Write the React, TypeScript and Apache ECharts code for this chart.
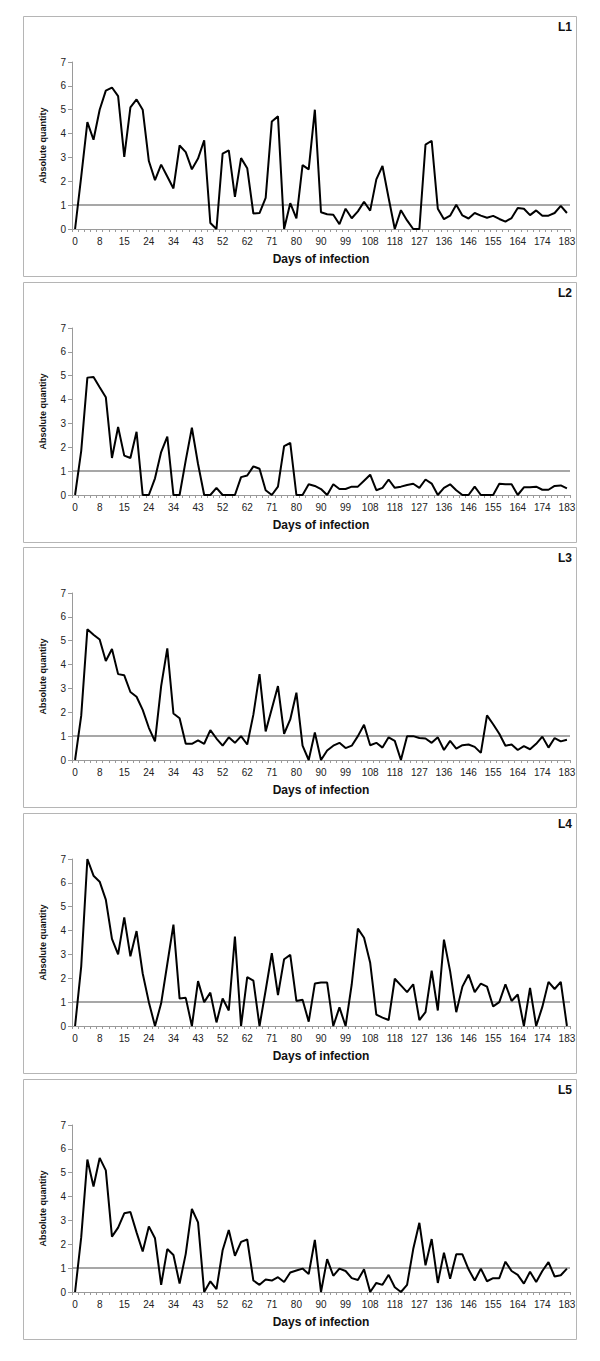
import React, { useEffect, useRef } from "react";
import * as echarts from "echarts";

// Day of sampling (category axis); every 4th one is labelled
const days = [
  "0", "2", "4", "6", "8", "10", "11", "13", "15", "17", "20", "22", "24", "27", "29", "31",
  "34", "36", "38", "41", "43", "45", "48", "50", "52", "55", "57", "59", "62", "64", "66", "69",
  "71", "73", "76", "78", "80", "83", "85", "87", "90", "92", "94", "97", "99", "101", "104", "106",
  "108", "111", "113", "115", "118", "120", "122", "125", "127", "129", "132", "134", "136", "139",
  "141", "143", "146", "148", "151", "153", "155", "157", "160", "162", "164", "167", "169", "171",
  "174", "176", "178", "181", "183",
];

const panelNames = ["L1", "L2", "L3", "L4", "L5"];

const l1 = [
  0, 2.2, 4.48, 3.74, 5.0, 5.8, 5.93, 5.57, 3.02, 5.1,
  5.43, 5.0, 2.85, 2.05, 2.7, 2.2, 1.7, 3.5, 3.22, 2.5,
  2.95, 3.72, 0.25, 0, 3.16, 3.3, 1.35, 2.97, 2.55, 0.65,
  0.67, 1.3, 4.51, 4.72, 0, 1.08, 0.45, 2.68, 2.5, 5.0,
  0.7, 0.62, 0.6, 0.2, 0.85, 0.45, 0.74, 1.14, 0.77, 2.08,
  2.64, 1.3, 0, 0.79, 0.36, 0, 0, 3.54, 3.7, 0.85,
  0.41, 0.56, 1.02, 0.57, 0.44, 0.67, 0.56, 0.47, 0.55, 0.42,
  0.31, 0.46, 0.88, 0.85, 0.58, 0.78, 0.56, 0.56, 0.67, 0.97, 0.67,
];

const l2 = [
  0, 1.85, 4.92, 4.95, 4.52, 4.1, 1.55, 2.85, 1.65, 1.55,
  2.65, 0, 0, 0.7, 1.8, 2.45, 0, 0, 1.45, 2.82,
  1.3, 0, 0, 0.3, 0, 0, 0, 0.75, 0.82, 1.2,
  1.1, 0.2, 0, 0.35, 2.05, 2.18, 0, 0, 0.45, 0.38,
  0.25, 0, 0.45, 0.25, 0.25, 0.35, 0.35, 0.6, 0.85, 0.2,
  0.3, 0.65, 0.3, 0.35, 0.42, 0.47, 0.3, 0.65, 0.48, 0,
  0.3, 0.45, 0.2, 0, 0, 0.35, 0, 0, 0, 0.47,
  0.45, 0.45, 0, 0.32, 0.32, 0.35, 0.22, 0.22, 0.38, 0.4, 0.28,
];

const l3 = [
  0, 1.86, 5.48, 5.25, 5.05, 4.15, 4.65, 3.6, 3.55, 2.85,
  2.65, 2.1, 1.35, 0.78, 3.1, 4.68, 1.95, 1.75, 0.68, 0.68,
  0.82, 0.68, 1.25, 0.9, 0.6, 0.95, 0.72, 1.0, 0.65, 1.9,
  3.6, 1.2, 2.15, 3.1, 1.1, 1.7, 2.82, 0.6, 0, 1.15,
  0, 0.4, 0.6, 0.72, 0.5, 0.6, 1.0, 1.48, 0.62, 0.72,
  0.52, 0.95, 0.8, 0, 1.0, 1.0, 0.92, 0.9, 0.72, 0.95,
  0.42, 0.8, 0.48, 0.62, 0.65, 0.55, 0.3, 1.87, 1.5, 1.1,
  0.6, 0.65, 0.42, 0.58, 0.45, 0.68, 0.98, 0.52, 0.92, 0.78, 0.85,
];

const l4 = [
  0, 2.5, 7.0, 6.3, 6.05, 5.3, 3.65, 3.0, 4.55, 2.92,
  3.98, 2.2, 1.0, 0, 0.95, 2.6, 4.25, 1.15, 1.18, 0,
  1.88, 1.0, 1.4, 0.15, 1.15, 0.65, 3.75, 0, 2.05, 1.9,
  0, 1.5, 3.05, 1.3, 2.8, 2.98, 1.05, 1.1, 0.18, 1.78,
  1.82, 1.82, 0, 0.78, 0, 1.75, 4.08, 3.7, 2.65, 0.48,
  0.35, 0.25, 1.98, 1.7, 1.42, 1.75, 0.25, 0.58, 2.32, 0.65,
  3.62, 2.3, 0.58, 1.65, 2.15, 1.42, 1.78, 1.65, 0.82, 1.0,
  1.75, 1.05, 1.32, 0, 1.6, 0, 0.8, 1.85, 1.55, 1.85, 0,
];

const l5 = [
  0, 2.3, 5.55, 4.42, 5.62, 5.1, 2.32, 2.7, 3.3, 3.35,
  2.5, 1.7, 2.75, 2.25, 0.3, 1.8, 1.55, 0.35, 1.6, 3.48,
  2.92, 0, 0.45, 0.12, 1.75, 2.6, 1.52, 2.1, 2.2, 0.48,
  0.3, 0.52, 0.48, 0.62, 0.42, 0.82, 0.9, 0.98, 0.75, 2.18,
  0, 1.38, 0.68, 0.98, 0.88, 0.58, 0.5, 0.95, 0, 0.38,
  0.3, 0.72, 0.2, 0, 0.3, 1.8, 2.9, 1.12, 2.22, 0.38,
  1.65, 0.55, 1.58, 1.58, 0.95, 0.48, 0.98, 0.45, 0.58, 0.58,
  1.27, 0.88, 0.72, 0.35, 0.85, 0.42, 0.88, 1.25, 0.65, 0.7, 0.98,
];

const threshold = 1;
const yMin = 0;
const yMax = 7;
const yStep = 1;

const FONT = "'Liberation Sans', Arial, Helvetica, sans-serif";

export default function App() {
  const ref = useRef<HTMLDivElement>(null);

  useEffect(() => {
    if (!ref.current) return;
    const chart = echarts.init(ref.current, null, { renderer: "svg" });
    const allSeries = [l1, l2, l3, l4, l5];
    const tops = [16, 282, 547, 813, 1079];
    const boxLeft = 23.5;
    const boxWidth = 553;
    const boxHeight = 260;

    const grids = tops.map((t) => ({
      left: 72,
      right: 30,
      top: t + 46,
      height: 167,
      containLabel: false,
    }));

    const xAxes = tops.map((_, i) => ({
      type: "category",
      gridIndex: i,
      data: days,
      boundaryGap: true,
      axisLine: { show: true, lineStyle: { color: "#9a9a9a", width: 1 } },
      axisTick: { show: true, interval: 0, length: 3, lineStyle: { color: "#9a9a9a" } },
      axisLabel: { interval: 3, fontSize: 10, color: "#222", margin: 7, fontFamily: FONT },
      splitLine: { show: false },
      name: "Days of infection",
      nameLocation: "middle",
      nameGap: 24,
      nameTextStyle: { fontSize: 12, fontWeight: "bold", color: "#111", fontFamily: FONT },
    }));

    const yAxes = tops.map((_, i) => ({
      type: "value",
      gridIndex: i,
      min: yMin,
      max: yMax,
      interval: yStep,
      axisLine: { show: true, lineStyle: { color: "#9a9a9a", width: 1 } },
      axisTick: { show: true, length: 4, lineStyle: { color: "#9a9a9a" } },
      axisLabel: { fontSize: 10, color: "#222", margin: 6, fontFamily: FONT },
      splitLine: { show: false },
      name: "Absolute quantity",
      nameLocation: "middle",
      nameGap: 25,
      nameRotate: 90,
      nameTextStyle: { fontSize: 9, fontWeight: "bold", color: "#111", fontFamily: FONT },
    }));

    const series = allSeries.map((data, i) => ({
      type: "line",
      name: panelNames[i],
      xAxisIndex: i,
      yAxisIndex: i,
      data,
      symbol: "none",
      lineStyle: { color: "#000", width: 2 },
      z: 3,
      markLine: {
        silent: true,
        symbol: "none",
        label: { show: false },
        lineStyle: { color: "#8a8a8a", type: "solid", width: 1.5 },
        data: [{ yAxis: threshold }],
        z: 2,
      },
    }));

    const graphic: any[] = [];
    tops.forEach((t, i) => {
      graphic.push({
        type: "rect",
        shape: { x: boxLeft, y: t + 0.5, width: boxWidth, height: boxHeight },
        style: { fill: "none", stroke: "#b5b5b5", lineWidth: 1 },
        silent: true,
        z: 0,
      });
      graphic.push({
        type: "text",
        x: 572,
        y: t + 11,
        style: {
          text: panelNames[i],
          fontSize: 12,
          fontWeight: "bold",
          fill: "#111",
          fontFamily: FONT,
          textAlign: "right",
          textVerticalAlign: "middle",
        },
        z: 5,
      });
    });

    chart.setOption({
      animation: false,
      backgroundColor: "#fff",
      grid: grids,
      xAxis: xAxes,
      yAxis: yAxes,
      series,
      graphic,
    });

    return () => {
      chart.dispose();
    };
  }, []);

  return (
    <div
      ref={ref}
      style={{ position: "absolute", left: 0, top: 0, width: 600, height: 1361, background: "#fff" }}
    />
  );
}
